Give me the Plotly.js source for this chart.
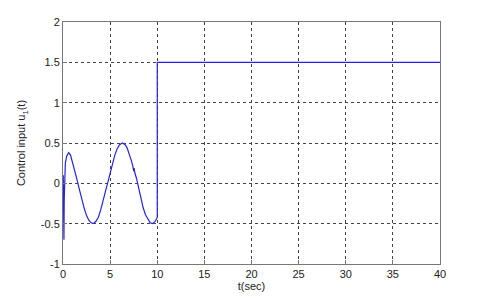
<!DOCTYPE html>
<html><head><meta charset="utf-8">
<script src="https://cdn.plot.ly/plotly-3.0.1.min.js"></script>
<style>html,body{margin:0;padding:0;background:#fff}#c{width:484px;height:296px}</style>
</head><body><div id="c"></div>
<script>
const tSec = [0, 0.03, 0.06, 0.1, 0.13, 0.17, 0.25, 0.4, 0.6, 0.8, 1.0, 1.25, 1.5, 1.75, 2.0, 2.25, 2.5, 2.75, 3.0, 3.2, 3.5, 3.75, 4.0, 4.25, 4.5, 4.75, 5.0, 5.25, 5.5, 5.75, 6.0, 6.3, 6.6, 6.8, 7.0, 7.2, 7.4, 7.5, 7.55, 7.6, 7.8, 8.0, 8.25, 8.5, 8.75, 9.0, 9.25, 9.5, 9.8, 10.0, 10.0, 40];
const uCtrl = [0, 0.1, -0.3, -0.7, -0.2, 0.1, 0.25, 0.34, 0.38, 0.35, 0.27, 0.16, 0.04, -0.08, -0.2, -0.31, -0.4, -0.46, -0.49, -0.5, -0.47, -0.42, -0.33, -0.22, -0.1, 0.02, 0.14, 0.25, 0.35, 0.43, 0.48, 0.5, 0.48, 0.44, 0.38, 0.3, 0.22, 0.15, 0.19, 0.14, 0.06, -0.05, -0.18, -0.3, -0.39, -0.45, -0.49, -0.5, -0.47, -0.42, 1.5, 1.5];
const xTicks = [0, 5, 10, 15, 20, 25, 30, 35, 40];
const yTicks = [-1, -0.5, 0, 0.5, 1, 1.5, 2];
const yTickText = ["-1", "-0.5", "0", "0.5", "1", "1.5", "2"];

const axisCommon = {
  showline: true, linecolor: '#777', linewidth: 1, mirror: true,
  ticks: 'inside', ticklen: 4, tickcolor: '#777',
  showgrid: true, gridcolor: '#444', gridwidth: 1, griddash: '3px,3px',
  zeroline: false, tickfont: {family: 'Arial, Liberation Sans', size: 11, color: '#222'}
};
Plotly.newPlot('c', [{
  x: tSec, y: uCtrl, type: 'scatter', mode: 'lines',
  line: {color: '#2323e6', width: 1.2}
}], {
  width: 484, height: 296,
  margin: {l: 63, r: 44, t: 22, b: 32},
  paper_bgcolor: '#fff', plot_bgcolor: '#fff',
  showlegend: false,
  xaxis: Object.assign({}, axisCommon, {range: [0, 40], tickvals: xTicks,
    title: {text: 't(sec)', font: {family: 'Arial, Liberation Sans', size: 11, color: '#222'}, standoff: 2}}),
  yaxis: Object.assign({}, axisCommon, {range: [-1, 2], tickvals: yTicks, ticktext: yTickText,
    title: {text: 'Control input u<sub>1</sub>(t)', font: {family: 'Arial, Liberation Sans', size: 11, color: '#222'}, standoff: 12}})
}, {displayModeBar: false, staticPlot: true});
</script></body></html>
